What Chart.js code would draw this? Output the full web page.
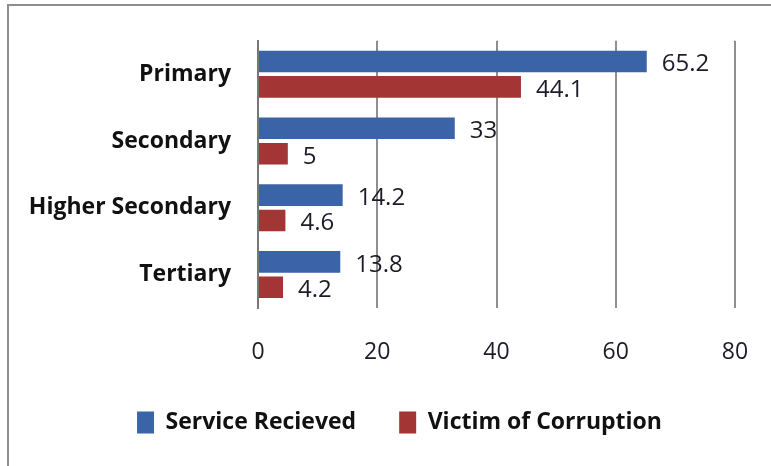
<!DOCTYPE html>
<html>
<head>
<meta charset="utf-8">
<script src="https://cdn.jsdelivr.net/npm/chart.js@4.4.0/dist/chart.umd.min.js"></script>
<style>
  html, body { margin: 0; padding: 0; background: #fff; }
  #wrap { position: relative; width: 771px; height: 466px; overflow: hidden; }
  #frame { position: absolute; left: 7px; top: 4px; width: 800px; height: 500px; border: 2px solid #8e8e8e; }
  #chart { position: absolute; left: 0; top: 0; }
</style>
</head>
<body>
<div id="wrap">
  <div id="frame"></div>
  <canvas id="chart" width="771" height="466"></canvas>
</div>
<script>
const categories = ["Primary", "Secondary", "Higher Secondary", "Tertiary"];
const serviceReceived = [65.2, 33, 14.2, 13.8];
const victimOfCorruption = [44.1, 5, 4.6, 4.2];
const seriesNames = ["Service Recieved", "Victim of Corruption"];
const xTicks = [0, 20, 40, 60, 80];

const FONT = "'Open Sans', 'Noto Sans', sans-serif";

// numbers next to the end of each bar
const valueLabels = {
    id: "valueLabels",
    afterDatasetsDraw(chart) {
        const ctx = chart.ctx;
        ctx.save();
        ctx.font = "24px " + FONT;
        ctx.fillStyle = "#1c1c28";
        ctx.textBaseline = "middle";
        chart.data.datasets.forEach((ds, i) => {
            chart.getDatasetMeta(i).data.forEach((bar, j) => {
                ctx.fillText(String(ds.data[j]), bar.x + 15, bar.y + 3);
            });
        });
        ctx.restore();
    }
};

new Chart(document.getElementById("chart"), {
    type: "bar",
    data: {
        labels: categories,
        datasets: [
            {
                label: seriesNames[0],
                data: serviceReceived,
                backgroundColor: "#3b63a7",
                barPercentage: 0.85,
                categoryPercentage: 0.76
            },
            {
                label: seriesNames[1],
                data: victimOfCorruption,
                backgroundColor: "#a33535",
                barPercentage: 0.85,
                categoryPercentage: 0.76
            }
        ]
    },
    options: {
        indexAxis: "y",
        responsive: false,
        animation: false,
        layout: { padding: { left: 28, right: 0, top: 37, bottom: 22 } },
        plugins: {
            tooltip: { enabled: false },
            legend: {
                position: "bottom",
                labels: {
                    boxWidth: 17,
                    boxHeight: 22,
                    padding: 43,
                    color: "#111",
                    font: { family: FONT, size: 23, weight: "bold" }
                }
            }
        },
        scales: {
            x: {
                min: 0,
                max: 80,
                afterBuildTicks: s => { s.ticks = xTicks.map(v => ({ value: v })); },
                afterFit: s => { s.height = 60; s.paddingRight = 36; },
                ticks: {
                    color: "#1c1c28",
                    padding: 31,
                    font: { family: FONT, size: 23 }
                },
                grid: { color: "#8f8f8f", lineWidth: 2, drawTicks: false },
                border: { display: false }
            },
            y: {
                afterFit: s => { s.width = 230; },
                ticks: {
                    color: "#111",
                    padding: 27,
                    font: { family: FONT, size: 23, weight: "bold" }
                },
                grid: { display: false, drawTicks: false },
                border: { display: true, color: "#777", width: 2 }
            }
        }
    },
    plugins: [valueLabels]
});
</script>
</body>
</html>
